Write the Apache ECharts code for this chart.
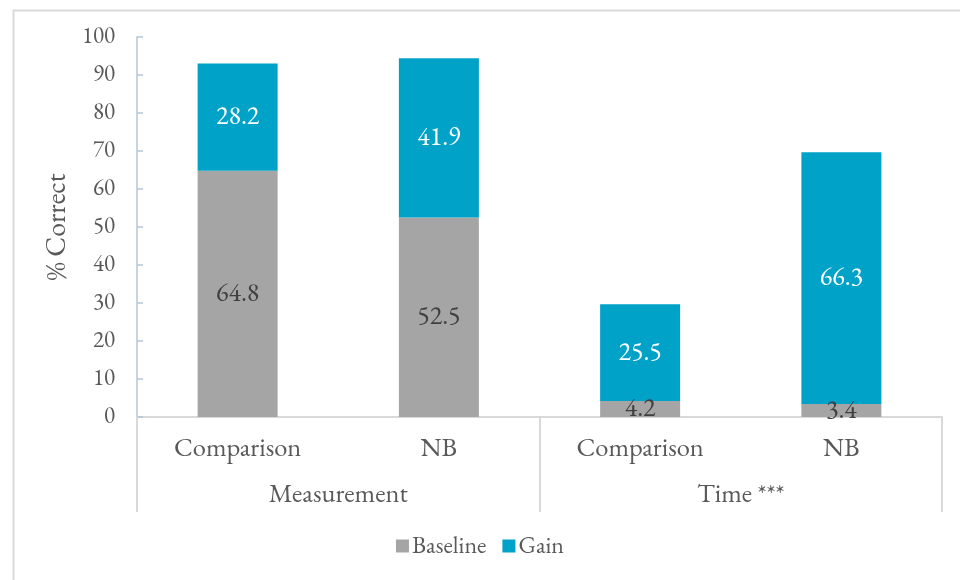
<!DOCTYPE html>
<html>
<head>
<meta charset="utf-8">
<script src="https://cdn.jsdelivr.net/npm/echarts@6/dist/echarts.min.js"></script>
<style>
  html, body { margin: 0; padding: 0; background: #ffffff; }
  #chart { width: 960px; height: 580px; }
</style>
</head>
<body>
<div id="chart"></div>
<script>
// Conditions within each task type
const conditions = ['Comparison', 'NB', 'Comparison', 'NB'];
// Task groups shown on the second axis row
const groups = ['Measurement', 'Time ***'];
// Percent correct: baseline and gain, stacked
const baseline = [64.8, 52.5, 4.2, 3.4];
const gain = [28.2, 41.9, 25.5, 66.3];

const FONT = "'EB Garamond', Garamond, 'Liberation Serif', 'DejaVu Serif', serif";
const TEXT = '#595959';
const RULE = '#D9D9D9';

const chart = echarts.init(document.getElementById('chart'), null, { renderer: 'canvas' });

chart.setOption({
  animation: false,
  backgroundColor: '#ffffff',
  textStyle: { fontFamily: FONT },
  graphic: [{
    type: 'rect',
    left: 11, top: 8,
    shape: { width: 980, height: 620 },
    style: { fill: 'none', stroke: RULE, lineWidth: 2 },
    silent: true
  }],
  grid: { left: 137, right: 18, top: 37, bottom: 163 },
  legend: {
    bottom: 17,
    left: 'center',
    itemWidth: 13,
    itemHeight: 13,
    itemGap: 16,
    icon: 'rect',
    textStyle: { fontFamily: FONT, fontSize: 24, color: TEXT, padding: [0, 0, 0, -2] },
    data: ['Baseline', 'Gain']
  },
  xAxis: [{
    type: 'category',
    data: conditions,
    axisLine: { show: true, lineStyle: { color: RULE, width: 2 } },
    axisTick: { show: false },
    axisLabel: { fontFamily: FONT, fontSize: 26.5, color: TEXT, margin: 18, interval: 0 }
  }, {
    type: 'category',
    data: groups,
    position: 'bottom',
    axisLine: { show: false },
    axisTick: { show: true, length: 95, interval: 0, lineStyle: { color: RULE, width: 2 } },
    axisLabel: { fontFamily: FONT, fontSize: 26.5, color: TEXT, margin: 64, interval: 0 }
  }],
  yAxis: {
    type: 'value',
    min: 0, max: 100, interval: 10,
    name: '% Correct',
    nameLocation: 'middle',
    nameGap: 61,
    nameRotate: 90,
    nameTextStyle: { fontFamily: FONT, fontSize: 28, color: TEXT },
    axisLine: { show: true, lineStyle: { color: '#B4C6D9', width: 1.5 } },
    axisTick: { show: true, inside: true, length: 6, lineStyle: { color: '#B4C6D9', width: 1.5 } },
    axisLabel: { fontFamily: FONT, fontSize: 23, color: TEXT, margin: 22 },
    splitLine: { show: false }
  },
  series: [{
    name: 'Baseline',
    type: 'bar',
    stack: 'total',
    barWidth: 80,
    data: baseline,
    itemStyle: { color: '#A5A5A5' },
    label: { show: true, position: 'inside', fontFamily: FONT, fontSize: 26, color: '#404040' }
  }, {
    name: 'Gain',
    type: 'bar',
    stack: 'total',
    barWidth: 80,
    data: gain,
    itemStyle: { color: '#00A2C7' },
    label: { show: true, position: 'inside', fontFamily: FONT, fontSize: 26, color: '#ffffff' }
  }]
});
</script>
</body>
</html>
